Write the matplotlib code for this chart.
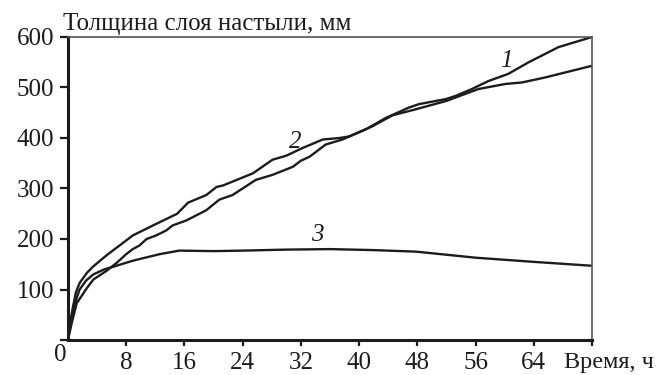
import matplotlib
matplotlib.use("Agg")
import matplotlib.pyplot as plt

# Curve 1 (ends at 600)
t1 = [0, 0.5, 1.2, 2.0, 2.6, 3.5, 5.3, 6.7, 8, 8.9, 9.8, 10.8, 12.1, 13.5, 14.4,
      16.3, 19, 20.8, 22.6, 25.8, 28.1, 30.9, 32, 33.2, 35.4, 37.7, 40.9, 43.7,
      46.8, 48.2, 51.9, 53.2, 55.5, 57.8, 60.5, 63.3, 67.4, 72]
v1 = [0, 33, 73, 90, 103, 120, 137, 153, 170, 180, 187, 200, 207, 217, 227,
      237, 257, 278, 287, 317, 327, 343, 355, 363, 387, 397, 417, 440,
      460, 467, 477, 483, 497, 513, 527, 550, 580, 600]

# Curve 2 (upper in early part, ends ~543)
t2 = [0, 0.3, 0.7, 1.1, 1.6, 2.6, 3.5, 4.4, 5.5, 6.7, 8.9, 11.7, 14, 15, 16.5, 19,
      20.4, 21.3, 25.4, 28.1, 30, 32.2, 35, 37.3, 38.6, 41.8, 44.6, 47.3, 51.9,
      56.4, 60.1, 62.4, 65.6, 72]
v2 = [0, 35, 67, 95, 113, 133, 146, 157, 170, 183, 207, 227, 243, 250, 272, 287,
      303, 306, 330, 357, 365, 380, 397, 400, 403, 423, 445, 455, 473,
      497, 507, 510, 520, 543]

# Curve 3 (plateau)
t3 = [0, 0.5, 1, 1.6, 2.5, 3.5, 5, 6.2, 8.9, 12.6, 15.3, 20, 24, 30, 36, 42,
      47.8, 56, 63.7, 72]
v3 = [0, 45, 75, 100, 118, 130, 140, 145, 157, 170, 177, 176, 177, 179, 180,
      178, 175, 163, 155, 147]

xticks = [8, 16, 24, 32, 40, 48, 56, 64, 72]
xticklabels = ["8", "16", "24", "32", "40", "48", "56", "64", ""]
yticks = [0, 100, 200, 300, 400, 500, 600]
yticklabels = ["", "100", "200", "300", "400", "500", "600"]

plt.rcParams['font.family'] = ['Liberation Serif', 'DejaVu Serif']

W, H = 658, 375
fig = plt.figure(figsize=(W/100, H/100), dpi=100)
ax = fig.add_axes([68/W, 35/H, (592-68)/W, (340-37)/H])

col = '#1c1c1c'
fs = 18
for t, v in [(t1, v1), (t2, v2), (t3, v3)]:
    ax.plot(t, v, color=col, lw=1.7, solid_joinstyle='round', solid_capstyle='round')

ax.set_xlim(0, 72)
ax.set_ylim(0, 600)
ax.set_xticks(xticks)
ax.set_xticklabels(xticklabels)
ax.set_yticks(yticks)
ax.set_yticklabels(yticklabels)
ax.tick_params(direction='out', width=1.6, labelsize=fs, colors=col)
ax.tick_params(axis='x', length=4.5, pad=4)
ax.tick_params(axis='y', length=6, pad=4)

for s in ['left', 'bottom']:
    ax.spines[s].set_linewidth(2.2)
    ax.spines[s].set_color(col)
for s in ['top', 'right']:
    ax.spines[s].set_linewidth(1.2)
    ax.spines[s].set_color('#555555')

ax.text(60.3, 553, '1', style='italic', fontsize=fs, ha='center', va='center', color=col)
ax.text(31.2, 393, '2', style='italic', fontsize=fs, ha='center', va='center', color=col)
ax.text(34.3, 207, '3', style='italic', fontsize=fs, ha='center', va='center', color=col)

fig.text(60/W, 1 - 361/H, '0', fontsize=fs, ha='center', va='baseline', color=col)
fig.text(63/W, 1 - 30/H, 'Толщина слоя настыли, мм', fontsize=fs, ha='left', va='baseline', color=col)
fig.text(654/W, 1 - 368/H, 'Время, ч', fontsize=17.5, ha='right', va='baseline', color=col)

fig.savefig('out.png', dpi=100)
